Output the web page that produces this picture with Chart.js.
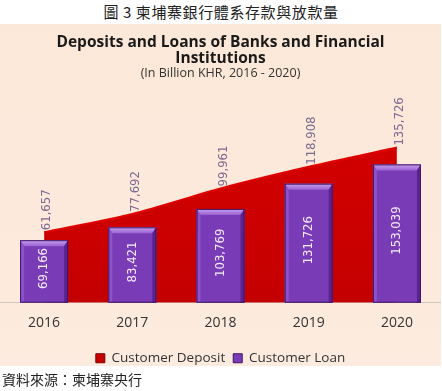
<!DOCTYPE html>
<html>
<head>
<meta charset="utf-8">
<script src="https://cdn.jsdelivr.net/npm/chart.js@4/dist/chart.umd.min.js"></script>
<style>
html,body{margin:0;padding:0;background:#fff;}
#page{position:relative;width:442px;height:391px;overflow:hidden;background:#fff;}
#maintitle{position:absolute;top:1px;left:0;width:442px;text-align:center;font:15px "Noto Sans CJK TC";letter-spacing:0.6px;color:#222;}
#box{position:absolute;top:24px;left:0;width:441px;height:342px;background:linear-gradient(#fce8d8,#fdebdf);}
#c{position:absolute;top:24px;left:0;}
#source{position:absolute;top:369px;left:2px;font:14px "Noto Sans CJK TC";color:#222;}
</style>
</head>
<body>
<div id="page">
<div id="maintitle">圖 3 柬埔寨銀行體系存款與放款量</div>
<div id="box"></div>
<canvas id="c" width="441" height="351"></canvas>
<div id="source">資料來源：柬埔寨央行</div>
</div>
<script>
const categories = ['2016', '2017', '2018', '2019', '2020'];
const depositValues = [61657, 77692, 99961, 118908, 135726];
const loanValues = [69166, 83421, 103769, 131726, 153039];
const depositLabel = 'Customer Deposit';
const loanLabel = 'Customer Loan';
const titleLines = ['Deposits and Loans of Banks and Financial', 'Institutions'];
const subtitleText = '(In Billion KHR, 2016 - 2020)';

function fmt(v){ return v.toLocaleString('en-US'); }

const bevelPlugin = {
  id: 'bevel',
  afterDatasetDraw(chart, args) {
    const meta = args.meta;
    if (meta.type !== 'bar') return;
    const ctx = chart.ctx;
    ctx.save();
    meta.data.forEach(el => {
      const l = el.x - el.width / 2, r = el.x + el.width / 2, t = el.y, b = el.base;
      const s = 4, tp = 6;
      const g = ctx.createLinearGradient(0, t, 0, t + tp);
      g.addColorStop(0, '#c8a2ee'); g.addColorStop(1, '#9a62d2');
      ctx.fillStyle = g;
      ctx.beginPath(); ctx.moveTo(l, t); ctx.lineTo(r, t); ctx.lineTo(r - s, t + tp); ctx.lineTo(l + s, t + tp); ctx.closePath(); ctx.fill();
      ctx.fillStyle = '#8d52c8';
      ctx.beginPath(); ctx.moveTo(l, t); ctx.lineTo(l + s, t + tp); ctx.lineTo(l + s, b); ctx.lineTo(l, b); ctx.closePath(); ctx.fill();
      ctx.fillStyle = '#5a2490';
      ctx.beginPath(); ctx.moveTo(r, t); ctx.lineTo(r - s, t + tp); ctx.lineTo(r - s, b); ctx.lineTo(r, b); ctx.closePath(); ctx.fill();
      ctx.strokeStyle = '#3e1466'; ctx.lineWidth = 1;
      ctx.strokeRect(l + 0.5, t + 0.5, r - l - 1, b - t - 1);
    });
    ctx.restore();
  }
};

const labelPlugin = {
  id: 'vlabels',
  afterDatasetsDraw(chart) {
    const ctx = chart.ctx;
    ctx.save();
    ctx.font = '13px "Liberation Sans Narrow", "DejaVu Sans Condensed", sans-serif';
    ctx.textBaseline = 'middle';
    const dm = chart.getDatasetMeta(0);
    dm.data.forEach((pt, i) => {
      ctx.save();
      ctx.translate(pt.x + 3, pt.y - 2);
      ctx.rotate(-Math.PI / 2);
      ctx.textAlign = 'left';
      ctx.fillStyle = '#7c6a92';
      ctx.fillText(fmt(depositValues[i]), 0, 0);
      ctx.restore();
    });
    const bm = chart.getDatasetMeta(1);
    bm.data.forEach((el, i) => {
      ctx.save();
      ctx.translate(el.x, (el.y + el.base) / 2 - 3);
      ctx.rotate(-Math.PI / 2);
      ctx.textAlign = 'center';
      ctx.fillStyle = '#f3ecff';
      ctx.fillText(fmt(loanValues[i]), 0, 0);
      ctx.restore();
    });
    ctx.restore();
  }
};

const ctx = document.getElementById('c').getContext('2d');
const chart = new Chart(ctx, {
  type: 'bar',
  data: {
    labels: categories,
    datasets: [
      {
        type: 'line',
        label: depositLabel,
        data: depositValues,
        yAxisID: 'y2',
        fill: 'origin',
        order: 1,
        tension: 0.25,
        pointRadius: 0,
        borderColor: '#e00000',
        borderWidth: 2,
        backgroundColor: function(c) {
          const a = c.chart.chartArea;
          if (!a) return '#c80000';
          const g = c.chart.ctx.createLinearGradient(0, a.top, 0, a.bottom);
          g.addColorStop(0, '#d80000'); g.addColorStop(1, '#c40000');
          return g;
        }
      },
      {
        type: 'bar',
        label: loanLabel,
        data: loanValues,
        yAxisID: 'y',
        order: 0,
        backgroundColor: '#7a3cb6',
        borderWidth: 0,
        categoryPercentage: 0.8,
        barPercentage: 0.68
      }
    ]
  },
  options: {
    responsive: false,
    animation: false,
    devicePixelRatio: 1,
    layout: { padding: { left: 0, right: 0, top: 0, bottom: 0 } },
    scales: {
      x: {
        offset: true,
        grid: { display: false, drawTicks: false },
        border: { display: true, color: '#cfc6bd', width: 1 },
        ticks: { color: '#333', font: { family: 'Open Sans', size: 14 }, padding: 12 }
      },
      y: { display: false, min: 0, max: 236500 },
      y2: { display: false, min: 0, max: 187000 }
    },
    plugins: {
      tooltip: { enabled: false },
      title: {
        display: true,
        text: titleLines,
        color: '#1a1a1a',
        font: { family: 'Open Sans', size: 15.5, weight: 'bold', lineHeight: 1.0 },
        padding: { top: 11, bottom: 0 }
      },
      subtitle: {
        display: true,
        text: subtitleText,
        color: '#333',
        font: { family: 'Open Sans', size: 12.5 },
        padding: { top: 0, bottom: 8 }
      },
      legend: {
        position: 'bottom',
        labels: {
          color: '#333',
          font: { family: 'Open Sans', size: 13.5 },
          boxWidth: 9,
          boxHeight: 9,
          padding: 8,
          sort: (a, b) => a.datasetIndex - b.datasetIndex,
          generateLabels: (ch) => ch.data.datasets.map((d, i) => ({
            text: d.label,
            fillStyle: i === 0 ? '#c80000' : '#7a3cb6',
            strokeStyle: i === 0 ? '#7a0000' : '#3e1466',
            lineWidth: 1,
            datasetIndex: i,
            hidden: false,
            fontColor: '#333'
          }))
        }
      }
    }
  },
  plugins: [bevelPlugin, labelPlugin]
});
</script>
</body>
</html>
